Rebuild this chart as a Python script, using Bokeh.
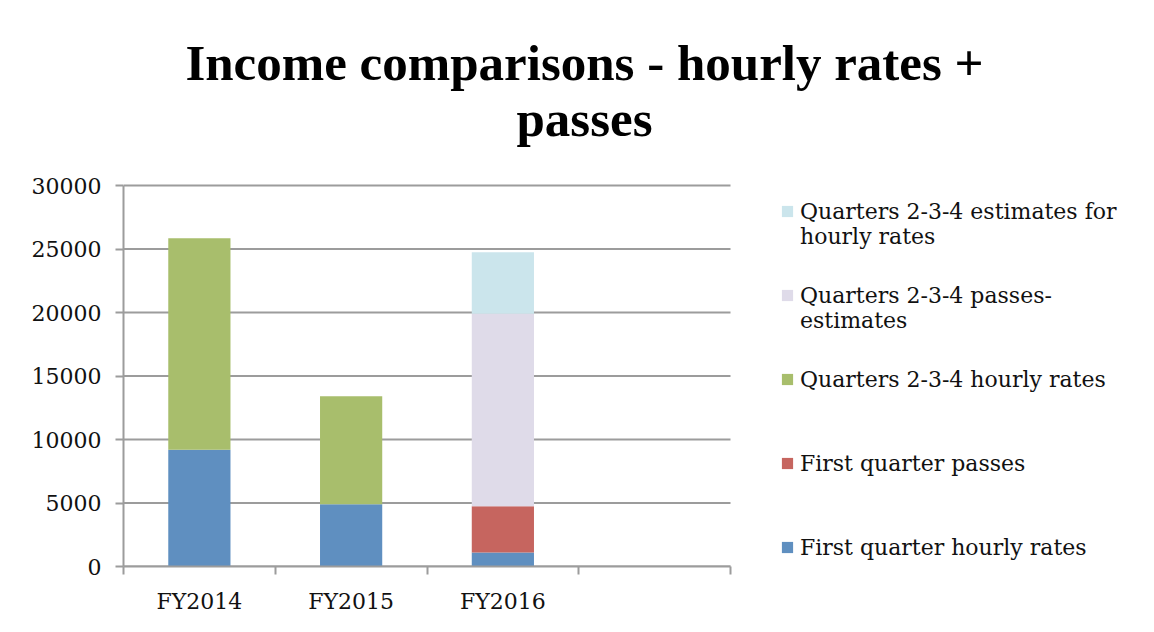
from bokeh.plotting import figure
from bokeh.models import (ColumnDataSource, FixedTicker, Legend, LegendItem, Label,
                          Range1d)
from bokeh.embed import file_html
from bokeh.resources import INLINE

categories = ["FY2014", "FY2015", "FY2016"]
q1_hourly = [9200, 4900, 1100]
q1_passes = [0, 0, 3650]
q234_hourly = [16650, 8500, 0]
q234_passes_est = [0, 0, 15150]
q234_hourly_est = [0, 0, 4850]

series = ["q1_hourly", "q1_passes", "q234_hourly", "q234_passes_est", "q234_hourly_est"]
labels = ["First quarter hourly rates", "First quarter passes",
          "Quarters 2-3-4 hourly rates", "\nQuarters 2-3-4 passes-\nestimates",
          "\nQuarters 2-3-4 estimates for\nhourly rates"]
colors = ["#5F8FC0", "#C6655F", "#A8BE6C", "#DFDBE9", "#CBE5EC"]
y_ticks = [0, 5000, 10000, 15000, 20000, 25000, 30000]
n_slots = 4  # Excel category slots (last one empty)

x_pos = [i + 0.5 for i in range(len(categories))]
source = ColumnDataSource(data=dict(x=x_pos, q1_hourly=q1_hourly, q1_passes=q1_passes,
                                    q234_hourly=q234_hourly, q234_passes_est=q234_passes_est,
                                    q234_hourly_est=q234_hourly_est))

# layout (pixels)
W, H = 1138, 616
FL, FB = 123, 566          # frame left / bottom
PLOT_W, PLOT_H = 607, 381  # size of the chart area proper
frame_w, frame_h = W - FL, FB
x_end = n_slots * frame_w / PLOT_W
y_end = y_ticks[-1] * frame_h / PLOT_H

p = figure(width=W, height=H, output_backend="svg", toolbar_location=None,
           x_range=Range1d(0, x_end), y_range=Range1d(0, y_end),
           min_border_left=FL, min_border_top=0, min_border_bottom=H - FB,
           min_border_right=0)
p.outline_line_color = None
p.grid.visible = False

grey = "#9C9C9C"
# horizontal gridlines across the chart area only
p.segment(x0=[0] * len(y_ticks), x1=[n_slots] * len(y_ticks), y0=y_ticks, y1=y_ticks,
          line_color=grey, line_width=2)

renderers = p.vbar_stack(series, x="x", width=0.41, source=source, color=colors,
                         line_color=None)

font = "DejaVu Serif"
xa = p.xaxis[0]
xa.bounds = (0, n_slots)
xa.ticker = FixedTicker(ticks=x_pos, minor_ticks=list(range(n_slots + 1)))
xa.major_label_overrides = {x: c for x, c in zip(x_pos, categories)}
xa.major_tick_line_color = None
xa.major_tick_out = 0
xa.major_tick_in = 0
xa.minor_tick_in = 0
xa.minor_tick_out = 8
xa.minor_tick_line_color = grey
xa.minor_tick_line_width = 2
xa.axis_line_color = grey
xa.axis_line_width = 2
xa.major_label_standoff = 14
xa.major_label_text_font = font
xa.major_label_text_font_size = "22px"
xa.major_label_text_color = "#111111"

ya = p.yaxis[0]
ya.bounds = (0, y_ticks[-1])
ya.ticker = FixedTicker(ticks=y_ticks)
ya.minor_tick_line_color = None
ya.major_tick_in = 0
ya.major_tick_out = 8
ya.major_tick_line_color = grey
ya.major_tick_line_width = 2
ya.axis_line_color = grey
ya.axis_line_width = 2
ya.major_label_standoff = 14
ya.major_label_text_font = font
ya.major_label_text_font_size = "22px"
ya.major_label_text_color = "#111111"

items = [LegendItem(label=lab, renderers=[r]) for lab, r in zip(labels, renderers)]
legend = Legend(items=items[::-1], location=(657, -23), margin=0, padding=0,
                glyph_width=14, glyph_height=14, label_standoff=6,
                label_height=84, spacing=0,
                label_text_font=font, label_text_font_size="22px",
                label_text_color="#111111", border_line_color=None,
                background_fill_alpha=0)
p.add_layout(legend, "center")

title = Label(x=584 - FL, y=FB - 90, x_units="screen", y_units="screen",
              text="Income comparisons - hourly rates +\npasses",
              text_font="Liberation Serif", text_font_style="bold",
              text_font_size="51px", text_align="center", text_baseline="middle",
              text_line_height=1.0, text_color="#000000")
p.add_layout(title)

open("out.html", "w").write(file_html(p, INLINE))
